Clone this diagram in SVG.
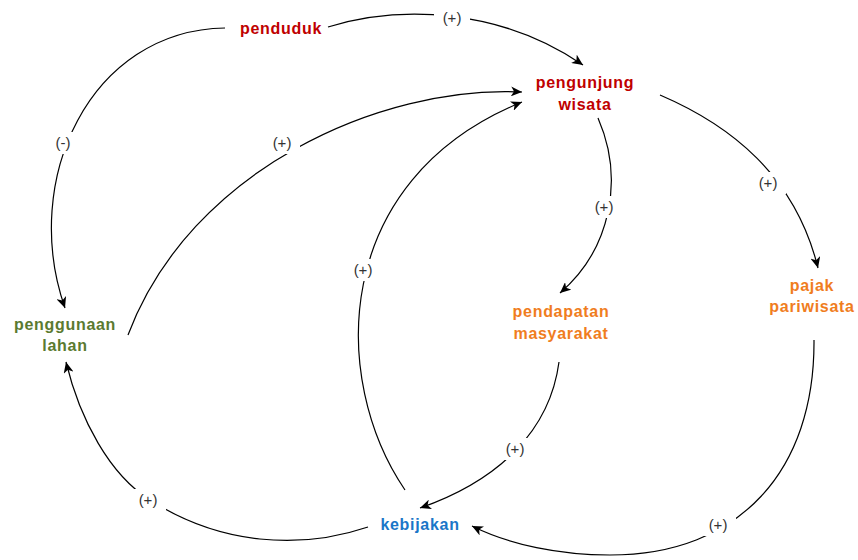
<svg xmlns="http://www.w3.org/2000/svg" width="858" height="560" viewBox="0 0 858 560">
<style>
.n{font-family:"Liberation Sans",Arial,sans-serif;font-weight:bold;font-size:16px;letter-spacing:0.7px;text-anchor:middle}
.red{fill:#c00000}.grn{fill:#5b7a30}.org{fill:#f07d1e}.blu{fill:#1a76c8}
.e{fill:none;stroke:#000;stroke-width:1.2;marker-end:url(#ah)}
.lb{fill:#fff}
.l{font-family:"Liberation Sans",Arial,sans-serif;font-size:15px;fill:#333;text-anchor:middle}
</style>
<defs>
<marker id="ah" markerWidth="12" markerHeight="10" refX="11" refY="5" orient="auto" markerUnits="userSpaceOnUse">
<path d="M0,0 L11,5 L0,10 L3,5 Z" fill="#000"/>
</marker>
</defs>
<rect width="858" height="560" fill="#fff"/>
<g id="connectors">
<path class="e" d="M328,27 C 400,5 500,8 583,65"/>
<path class="e" d="M225,28 C 90,30 20,180 65,308"/>
<path class="e" d="M128,335 C 190,170 380,85 522,92"/>
<path class="e" d="M405,490 C 330,380 330,180 522,102"/>
<path class="e" d="M598,118 C 625,180 610,250 560,293"/>
<path class="e" d="M660,95 C 730,125 795,175 818,268"/>
<path class="e" d="M559,362 C 550,430 500,480 420,508"/>
<path class="e" d="M814,340 C 815,470 740,555 610,555 C 560,555 510,545 472,526"/>
<path class="e" d="M368,527 C 300,550 220,545 150,500 C 110,475 80,420 66,362"/>
<rect class="lb" x="434" y="6" width="36" height="22"/>
<rect class="lb" x="50" y="132" width="26" height="22"/>
<rect class="lb" x="264" y="132" width="36" height="22"/>
<rect class="lb" x="345" y="259" width="36" height="22"/>
<rect class="lb" x="586" y="196" width="36" height="22"/>
<rect class="lb" x="750" y="172" width="36" height="22"/>
<rect class="lb" x="497" y="438" width="36" height="22"/>
<rect class="lb" x="700" y="514" width="36" height="22"/>
<rect class="lb" x="130" y="489" width="36" height="22"/>
<text class="l" x="452" y="23">(+)</text>
<text class="l" x="63" y="148">(-)</text>
<text class="l" x="282" y="148">(+)</text>
<text class="l" x="363" y="275">(+)</text>
<text class="l" x="604" y="212">(+)</text>
<text class="l" x="768" y="188">(+)</text>
<text class="l" x="515" y="454">(+)</text>
<text class="l" x="718" y="530">(+)</text>
<text class="l" x="148" y="505">(+)</text>
</g>
<g id="penduduk"><text class="n red" x="281" y="34">penduduk</text></g>
<g id="pengunjung"><text class="n red" x="585" y="88">pengunjung</text><text class="n red" x="585" y="110">wisata</text></g>
<g id="penggunaan"><text class="n grn" x="65" y="330">penggunaan</text><text class="n grn" x="65" y="351">lahan</text></g>
<g id="pendapatan"><text class="n org" x="561" y="317">pendapatan</text><text class="n org" x="561" y="339">masyarakat</text></g>
<g id="pajak"><text class="n org" x="812" y="291">pajak</text><text class="n org" x="812" y="312">pariwisata</text></g>
<g id="kebijakan"><text class="n blu" x="420" y="530">kebijakan</text></g>
</svg>
